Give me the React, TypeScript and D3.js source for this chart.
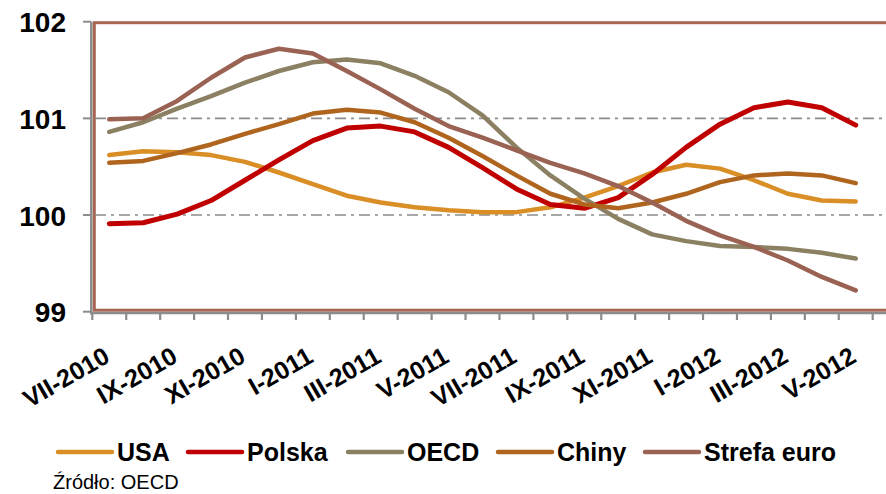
import { useEffect, useRef } from 'react'
import * as d3 from 'd3'

// Months shown on the x axis (Jul 2010 - Jun 2012), labels every second month
const months = [
  'VII-2010', 'VIII-2010', 'IX-2010', 'X-2010', 'XI-2010', 'XII-2010',
  'I-2011', 'II-2011', 'III-2011', 'IV-2011', 'V-2011', 'VI-2011',
  'VII-2011', 'VIII-2011', 'IX-2011', 'X-2011', 'XI-2011', 'XII-2011',
  'I-2012', 'II-2012', 'III-2012', 'IV-2012', 'V-2012', 'VI-2012'
]
const labeledMonths = [
  'VII-2010', 'IX-2010', 'XI-2010', 'I-2011', 'III-2011', 'V-2011',
  'VII-2011', 'IX-2011', 'XI-2011', 'I-2012', 'III-2012', 'V-2012'
]
const yTicks = [99, 100, 101, 102]
const gridValues = [100, 101]

const usa = [100.62, 100.66, 100.65, 100.62, 100.55, 100.44, 100.32, 100.20, 100.13, 100.08, 100.05, 100.03, 100.03, 100.08, 100.18, 100.30, 100.44, 100.52, 100.48, 100.36, 100.22, 100.15, 100.14]
const polska = [99.91, 99.92, 100.01, 100.15, 100.36, 100.57, 100.77, 100.90, 100.92, 100.86, 100.70, 100.49, 100.27, 100.11, 100.07, 100.18, 100.42, 100.70, 100.94, 101.11, 101.17, 101.11, 100.93]
const oecd = [100.86, 100.96, 101.10, 101.23, 101.37, 101.49, 101.58, 101.61, 101.57, 101.44, 101.27, 101.03, 100.70, 100.41, 100.17, 99.96, 99.80, 99.73, 99.68, 99.67, 99.65, 99.61, 99.55]
const chiny = [100.54, 100.56, 100.64, 100.73, 100.84, 100.94, 101.05, 101.09, 101.06, 100.96, 100.80, 100.61, 100.41, 100.22, 100.11, 100.07, 100.13, 100.22, 100.34, 100.41, 100.43, 100.41, 100.33]
const strefa = [100.99, 101.00, 101.18, 101.42, 101.63, 101.72, 101.67, 101.49, 101.30, 101.10, 100.92, 100.80, 100.67, 100.54, 100.43, 100.30, 100.13, 99.94, 99.79, 99.67, 99.53, 99.36, 99.22]

const seriesNames = ['USA', 'Polska', 'OECD', 'Chiny', 'Strefa euro']
const seriesColors = ['#D98E26', '#C00000', '#8B8062', '#B0651F', '#9A6253']

const FONT = '"Liberation Sans", Arial, sans-serif'

export default function App() {
  const svgRef = useRef<SVGSVGElement>(null)

  useEffect(() => {
    if (!svgRef.current) return
    const svg = d3.select(svgRef.current)
    svg.selectAll('*').remove()

    const left = 92.3
    const step = 33.93
    const right = left + step * months.length

    const x = d3.scaleBand<string>()
      .domain(months)
      .range([left, right])
      .padding(0)
    const cx = (m: string) => (x(m) as number) + x.bandwidth() / 2

    const y = d3.scaleLinear().domain([99, 102]).range([311.7, 21.7])

    // Plot area border
    svg.append('rect')
      .attr('x', 94.3)
      .attr('y', y(102) + 1)
      .attr('width', right + 20 - 94.3)
      .attr('height', y(99) - y(102) - 2.5)
      .attr('fill', 'none')
      .attr('stroke', '#A86652')
      .attr('stroke-width', 3)

    // Gridlines (dash-dot)
    svg.append('g')
      .selectAll('line')
      .data(gridValues)
      .enter().append('line')
      .attr('x1', 95)
      .attr('x2', right + 20)
      .attr('y1', d => y(d))
      .attr('y2', d => y(d))
      .attr('stroke', '#8C8C8C')
      .attr('stroke-width', 1.6)
      .attr('stroke-dasharray', '11,5,3,5')

    // Y axis
    const yAxis = svg.append('g')
    yAxis.append('line')
      .attr('x1', 91.3).attr('x2', 91.3)
      .attr('y1', y(102)).attr('y2', y(99) + 2.5)
      .attr('stroke', '#8C8C8C').attr('stroke-width', 2.5)
    yAxis.selectAll('.ytick')
      .data(yTicks)
      .enter().append('line')
      .attr('class', 'ytick')
      .attr('x1', 83).attr('x2', 91)
      .attr('y1', d => y(d)).attr('y2', d => y(d))
      .attr('stroke', '#8C8C8C').attr('stroke-width', 2)
    yAxis.selectAll('.ylabel')
      .data(yTicks)
      .enter().append('text')
      .attr('class', 'ylabel')
      .attr('x', 66)
      .attr('y', d => y(d) + 10.5)
      .attr('text-anchor', 'end')
      .style('font-family', FONT)
      .style('font-weight', 'bold')
      .style('font-size', '28px')
      .style('fill', '#000')
      .text(d => d)

    // X axis
    const xAxis = svg.append('g')
    xAxis.append('line')
      .attr('x1', 90).attr('x2', right + 20)
      .attr('y1', 313).attr('y2', 313)
      .attr('stroke', '#8C8C8C').attr('stroke-width', 2.5)
    const tickPos = months.map(m => x(m) as number).concat([right])
    xAxis.selectAll('.xtick')
      .data(tickPos)
      .enter().append('line')
      .attr('class', 'xtick')
      .attr('x1', d => d).attr('x2', d => d)
      .attr('y1', 313).attr('y2', 320)
      .attr('stroke', '#8C8C8C').attr('stroke-width', 2.2)
    xAxis.selectAll('.xlabel')
      .data(labeledMonths)
      .enter().append('text')
      .attr('class', 'xlabel')
      .attr('transform', d => `translate(${cx(d) + 2},361) rotate(-30)`)
      .attr('text-anchor', 'end')
      .style('font-family', FONT)
      .style('font-weight', 'bold')
      .style('font-size', '25px')
      .style('fill', '#000')
      .text(d => d)

    // Lines
    const seriesData = [usa, polska, oecd, chiny, strefa]
    const line = d3.line<number>()
      .x((_, i) => cx(months[i]))
      .y(d => y(d))

    svg.append('g')
      .selectAll('path')
      .data(seriesData)
      .enter().append('path')
      .attr('d', d => line(d))
      .attr('fill', 'none')
      .attr('stroke', (_, i) => seriesColors[i])
      .attr('stroke-width', (_, i) => (i === 1 ? 5 : 4.5))
      .attr('stroke-linejoin', 'round')
      .attr('stroke-linecap', 'round')

    // Legend
    const legendX = [58, 188, 348, 498, 645]
    const legend = svg.append('g')
    legend.selectAll('.legend-item')
      .data(seriesNames)
      .enter().append('g')
      .attr('class', 'legend-item')
      .attr('transform', (_, i) => `translate(${legendX[i]}, 452)`)
      .each(function (d, i) {
        d3.select(this).append('line')
          .attr('x1', 0).attr('x2', 54)
          .attr('y1', 0).attr('y2', 0)
          .attr('stroke', seriesColors[i])
          .attr('stroke-width', 4.5)
          .attr('stroke-linecap', 'round')
        d3.select(this).append('text')
          .attr('x', 59)
          .attr('y', 8.5)
          .style('font-family', FONT)
          .style('font-weight', 'bold')
          .style('font-size', '25px')
          .style('fill', '#000')
          .text(d)
      })

    // Source note
    svg.append('text')
      .attr('x', 53)
      .attr('y', 489)
      .style('font-family', FONT)
      .style('font-size', '20px')
      .style('fill', '#000')
      .text('Źródło: OECD')
  }, [])

  return (
    <svg
      ref={svgRef}
      width={886}
      height={494}
      style={{ position: 'absolute', left: 0, top: 0, background: '#fff', overflow: 'hidden' }}
    />
  )
}
